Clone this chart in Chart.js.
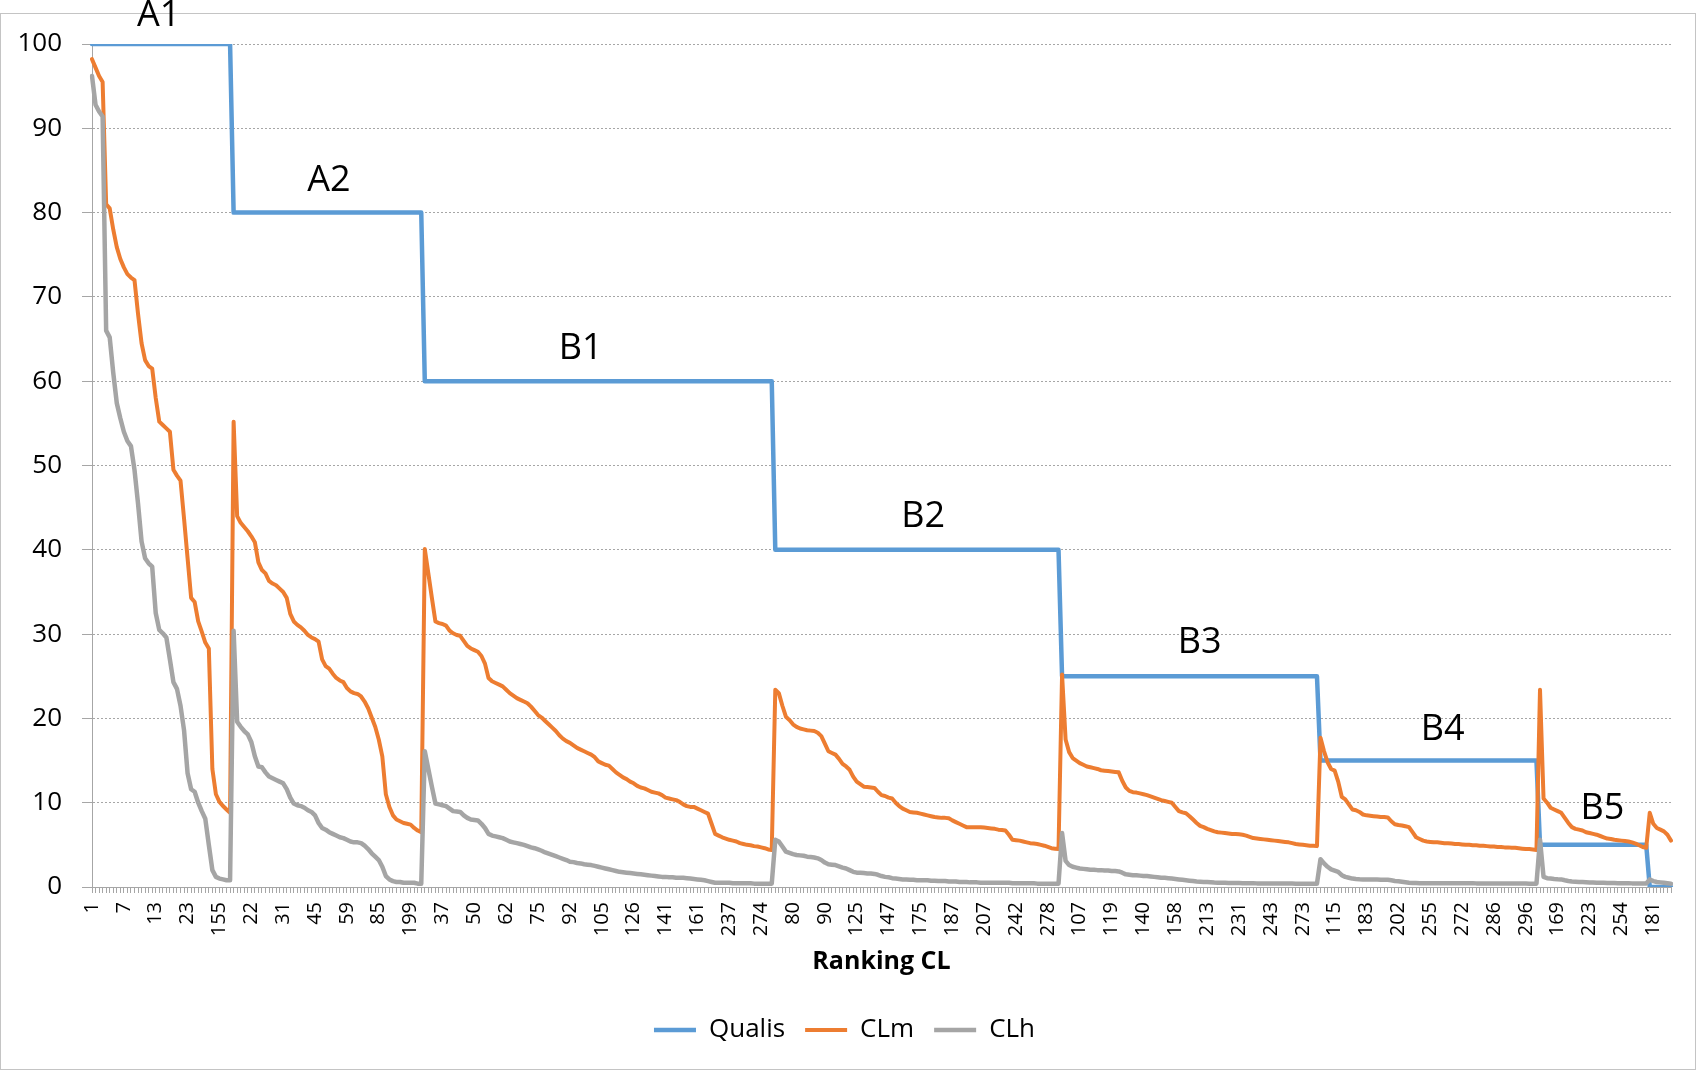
<!DOCTYPE html>
<html>
<head>
<meta charset="utf-8">
<title>Qualis x Ranking CL</title>
<script src="https://cdn.jsdelivr.net/npm/chart.js@4.4.1/dist/chart.umd.min.js"></script>
<style>
  html, body { margin: 0; padding: 0; background: #ffffff; }
  #wrap { position: relative; width: 1696px; height: 1071px; }
  #frame { position: absolute; left: 0; top: 13px; width: 1694px; height: 1055px; border: 1px solid #c4c4c4; }
  #chart { position: absolute; left: 0; top: 0; }
</style>
</head>
<body>
<div id="wrap">
  <div id="frame"></div>
  <canvas id="chart" width="1696" height="1071"></canvas>
</div>
<script>
// every 9th category carries a label on the x axis
const tickLabels = [
  "1", "7", "13", "23", "155", "22", "31", "45", "59", "85",
  "199", "37", "50", "62", "75", "92", "105", "126", "141", "161",
  "237", "274", "80", "90", "125", "147", "175", "187", "207", "242",
  "278", "107", "119", "140", "158", "213", "231", "243", "273", "115",
  "183", "202", "255", "272", "286", "296", "169", "223", "254", "181"
];
const labelEvery = 9;

const groupNames = ["A1", "A2", "B1", "B2", "B3", "B4", "B5", "C"];
const qualisScores = [100, 80, 60, 40, 25, 15, 5, 0];

const clmA1 = [98.2, 97.2, 96.2, 95.5, 81.0, 80.5, 78.0, 75.9, 74.5, 73.5,
  72.7, 72.3, 72.0, 68.0, 64.5, 62.5, 61.8, 61.5, 58.0, 55.2,
  54.8, 54.4, 54.0, 49.5, 48.8, 48.2, 43.7, 39.0, 34.3, 33.8,
  31.5, 30.3, 29.0, 28.3, 14.0, 11.0, 10.1, 9.6, 9.2, 8.8];
const clhA1 = [96.2, 92.8, 92.0, 91.4, 66.0, 65.2, 61.0, 57.4, 55.6, 54.0,
  52.9, 52.3, 49.5, 45.5, 41.0, 39.0, 38.4, 38.0, 32.5, 30.5,
  30.1, 29.6, 27.0, 24.3, 23.5, 21.5, 18.6, 13.5, 11.6, 11.3,
  10.0, 9.0, 8.1, 5.0, 2.0, 1.2, 1.0, 0.9, 0.8, 0.8];

const clmA2 = [55.2, 44.0, 43.2, 42.7, 42.2, 41.6, 40.9, 38.5, 37.6, 37.2,
  36.3, 36.0, 35.8, 35.4, 35.0, 34.3, 32.4, 31.5, 31.1, 30.8,
  30.4, 29.9, 29.6, 29.4, 29.1, 27.0, 26.2, 25.9, 25.3, 24.8,
  24.5, 24.3, 23.6, 23.2, 23.0, 22.9, 22.6, 22.0, 21.2, 20.1,
  19.0, 17.5, 15.5, 11.0, 9.5, 8.5, 8.0, 7.8, 7.6, 7.5,
  7.4, 7.0, 6.7, 6.5];
const clhA2 = [30.4, 19.6, 19.0, 18.5, 18.1, 17.2, 15.5, 14.3, 14.2, 13.6,
  13.1, 12.9, 12.7, 12.5, 12.3, 11.6, 10.6, 9.9, 9.7, 9.6,
  9.4, 9.1, 8.9, 8.5, 7.6, 7.0, 6.8, 6.5, 6.3, 6.1,
  5.9, 5.8, 5.6, 5.4, 5.3, 5.3, 5.2, 4.9, 4.5, 4.0,
  3.6, 3.2, 2.4, 1.3, 0.9, 0.7, 0.6, 0.6, 0.5, 0.5,
  0.5, 0.5, 0.4, 0.4];

const clmB1 = [40.1, 37.2, 34.3, 31.5, 31.3, 31.2, 31.0, 30.4, 30.1, 29.9,
  29.8, 29.2, 28.6, 28.3, 28.1, 27.9, 27.4, 26.5, 24.8, 24.4,
  24.2, 24.0, 23.8, 23.4, 23.0, 22.7, 22.4, 22.2, 22.0, 21.8,
  21.4, 20.9, 20.4, 20.1, 19.7, 19.3, 18.9, 18.5, 18.0, 17.6,
  17.3, 17.1, 16.8, 16.5, 16.3, 16.1, 15.9, 15.7, 15.4, 14.9,
  14.7, 14.5, 14.4, 14.0, 13.6, 13.3, 13.0, 12.8, 12.5, 12.3,
  12.0, 11.8, 11.7, 11.5, 11.3, 11.2, 11.1, 10.9, 10.6, 10.5,
  10.4, 10.3, 10.1, 9.8, 9.6, 9.5, 9.5, 9.3, 9.1, 8.9,
  8.7, 7.5, 6.3, 6.1, 5.9, 5.75, 5.6, 5.5, 5.4, 5.2,
  5.1, 5.0, 4.95, 4.85, 4.8, 4.7, 4.6, 4.45, 4.4];
const clhB1 = [16.1, 14.0, 11.9, 9.9, 9.8, 9.7, 9.6, 9.3, 9.0, 8.95,
  8.9, 8.5, 8.2, 8.0, 7.95, 7.9, 7.5, 7.0, 6.3, 6.1,
  6.0, 5.9, 5.8, 5.6, 5.4, 5.3, 5.2, 5.1, 5.0, 4.85,
  4.7, 4.6, 4.45, 4.3, 4.1, 3.95, 3.8, 3.65, 3.5, 3.35,
  3.2, 3.0, 2.95, 2.85, 2.8, 2.7, 2.65, 2.6, 2.5, 2.4,
  2.3, 2.2, 2.1, 2.0, 1.9, 1.8, 1.75, 1.7, 1.65, 1.6,
  1.55, 1.5, 1.45, 1.4, 1.35, 1.3, 1.25, 1.2, 1.2, 1.15,
  1.15, 1.1, 1.1, 1.1, 1.05, 1.0, 0.95, 0.9, 0.85, 0.8,
  0.7, 0.6, 0.5, 0.5, 0.5, 0.5, 0.5, 0.45, 0.45, 0.45,
  0.45, 0.45, 0.45, 0.4, 0.4, 0.4, 0.4, 0.4, 0.4];

const clmB2 = [23.4, 23.0, 21.5, 20.2, 19.8, 19.3, 19.0, 18.8, 18.7, 18.6,
  18.55, 18.5, 18.3, 17.9, 17.0, 16.1, 15.9, 15.7, 15.2, 14.6,
  14.3, 13.9, 13.1, 12.5, 12.2, 11.9, 11.85, 11.8, 11.75, 11.3,
  10.9, 10.8, 10.6, 10.5, 10.0, 9.6, 9.3, 9.1, 8.9, 8.85,
  8.8, 8.7, 8.6, 8.5, 8.4, 8.3, 8.25, 8.2, 8.2, 8.15,
  7.9, 7.7, 7.5, 7.3, 7.1, 7.1, 7.1, 7.1, 7.1, 7.05,
  7.0, 6.95, 6.9, 6.8, 6.75, 6.7, 6.2, 5.6, 5.55, 5.5,
  5.4, 5.3, 5.2, 5.15, 5.1, 5.0, 4.9, 4.75, 4.6, 4.55,
  4.5];
const clhB2 = [5.6, 5.4, 4.8, 4.2, 4.05, 3.9, 3.8, 3.75, 3.7, 3.6,
  3.55, 3.5, 3.4, 3.2, 2.9, 2.7, 2.65, 2.6, 2.45, 2.3,
  2.2, 2.0, 1.8, 1.7, 1.7, 1.65, 1.6, 1.6, 1.55, 1.45,
  1.3, 1.2, 1.15, 1.05, 1.0, 0.95, 0.9, 0.9, 0.85, 0.85,
  0.8, 0.8, 0.8, 0.8, 0.75, 0.75, 0.7, 0.7, 0.7, 0.65,
  0.65, 0.65, 0.6, 0.6, 0.6, 0.55, 0.55, 0.55, 0.5, 0.5,
  0.5, 0.5, 0.5, 0.5, 0.5, 0.5, 0.5, 0.45, 0.45, 0.45,
  0.45, 0.45, 0.45, 0.45, 0.4, 0.4, 0.4, 0.4, 0.4, 0.4,
  0.4];

const clmB3 = [25.2, 17.5, 16.0, 15.3, 15.0, 14.7, 14.5, 14.3, 14.2, 14.1,
  14.0, 13.85, 13.8, 13.75, 13.7, 13.65, 13.6, 12.6, 11.8, 11.4,
  11.25, 11.2, 11.1, 11.0, 10.9, 10.75, 10.6, 10.45, 10.3, 10.2,
  10.1, 10.0, 9.5, 9.0, 8.85, 8.75, 8.4, 8.0, 7.6, 7.25,
  7.1, 6.9, 6.75, 6.6, 6.5, 6.45, 6.4, 6.35, 6.3, 6.3,
  6.25, 6.2, 6.1, 5.95, 5.8, 5.75, 5.7, 5.65, 5.6, 5.55,
  5.5, 5.45, 5.4, 5.35, 5.3, 5.2, 5.1, 5.05, 5.0, 4.95,
  4.9, 4.9, 4.85];
const clhB3 = [6.4, 3.1, 2.6, 2.4, 2.3, 2.2, 2.15, 2.1, 2.05, 2.05,
  2.0, 2.0, 1.95, 1.95, 1.9, 1.9, 1.85, 1.7, 1.5, 1.45,
  1.4, 1.4, 1.35, 1.3, 1.3, 1.25, 1.2, 1.15, 1.1, 1.1,
  1.05, 1.0, 0.95, 0.9, 0.85, 0.8, 0.75, 0.7, 0.65, 0.63,
  0.6, 0.58, 0.55, 0.52, 0.5, 0.5, 0.5, 0.48, 0.48, 0.47,
  0.46, 0.45, 0.45, 0.44, 0.44, 0.43, 0.43, 0.43, 0.42, 0.42,
  0.42, 0.42, 0.41, 0.41, 0.41, 0.41, 0.4, 0.4, 0.4, 0.4,
  0.4, 0.4, 0.4];

const clmB4 = [17.7, 16.1, 14.8, 14.0, 13.8, 12.5, 10.7, 10.4, 9.8, 9.2,
  9.1, 8.9, 8.6, 8.5, 8.45, 8.4, 8.35, 8.3, 8.3, 8.25,
  7.8, 7.45, 7.35, 7.3, 7.2, 7.1, 6.5, 5.9, 5.7, 5.5,
  5.4, 5.35, 5.3, 5.3, 5.25, 5.2, 5.2, 5.15, 5.1, 5.1,
  5.05, 5.0, 5.0, 4.95, 4.95, 4.9, 4.9, 4.85, 4.8, 4.8,
  4.75, 4.75, 4.7, 4.7, 4.65, 4.65, 4.6, 4.55, 4.5, 4.5,
  4.45, 4.4];
const clhB4 = [3.3, 2.8, 2.4, 2.1, 1.95, 1.8, 1.4, 1.2, 1.1, 1.0,
  0.95, 0.92, 0.9, 0.9, 0.9, 0.88, 0.88, 0.87, 0.87, 0.85,
  0.8, 0.72, 0.68, 0.62, 0.56, 0.5, 0.47, 0.46, 0.45, 0.45,
  0.45, 0.45, 0.45, 0.45, 0.45, 0.45, 0.44, 0.44, 0.44, 0.44,
  0.44, 0.44, 0.44, 0.44, 0.43, 0.43, 0.43, 0.43, 0.43, 0.43,
  0.42, 0.42, 0.42, 0.42, 0.42, 0.42, 0.41, 0.41, 0.41, 0.4,
  0.4, 0.4];

const clmB5 = [23.4, 10.5, 10.0, 9.4, 9.2, 9.0, 8.8, 8.2, 7.6, 7.1,
  6.9, 6.8, 6.7, 6.5, 6.4, 6.3, 6.2, 6.05, 5.9, 5.75,
  5.7, 5.6, 5.55, 5.5, 5.45, 5.4, 5.3, 5.15, 4.95, 4.75,
  4.65];
const clhB5 = [5.6, 1.2, 1.05, 1.0, 0.95, 0.92, 0.9, 0.8, 0.72, 0.66,
  0.63, 0.6, 0.58, 0.56, 0.54, 0.52, 0.5, 0.5, 0.5, 0.48,
  0.47, 0.46, 0.45, 0.45, 0.44, 0.44, 0.43, 0.43, 0.43, 0.42,
  0.42];

const clmC = [8.8, 7.5, 7.0, 6.8, 6.6, 6.2, 5.5];
const clhC = [0.9, 0.7, 0.6, 0.55, 0.5, 0.45, 0.4];

const clmGroups = [clmA1, clmA2, clmB1, clmB2, clmB3, clmB4, clmB5, clmC];
const clhGroups = [clhA1, clhA2, clhB1, clhB2, clhB3, clhB4, clhB5, clhC];

// one Qualis score per journal, taken from the group it belongs to
const qualis = clmGroups.flatMap((group, i) => group.map(() => qualisScores[i]));
const clm = clmGroups.flat();
const clh = clhGroups.flat();
const categories = clm.map((_, i) => i);

const FONT = "'Open Sans', 'DejaVu Sans', sans-serif";
Chart.defaults.font.family = FONT;
Chart.defaults.color = "#000000";

// grade names written over the Qualis steps (x in category index, y in value)
const gradeSpots = [[18.8, 103.3], [66.9, 83.8], [138, 63.8], [234.8, 43.9], [312.9, 29.0], [381.5, 18.7], [426.6, 9.3]];

const gradeLabels = {
  id: "gradeLabels",
  afterDatasetsDraw(chart) {
    const { ctx, scales } = chart;
    ctx.save();
    ctx.font = `36px ${FONT}`;
    ctx.fillStyle = "#000000";
    ctx.textAlign = "center";
    ctx.textBaseline = "middle";
    gradeSpots.forEach(([idx, value], i) => {
      ctx.fillText(groupNames[i], scales.x.getPixelForValue(idx), scales.y.getPixelForValue(value));
    });
    ctx.restore();
  }
};

const lineStyle = {
  pointRadius: 0,
  tension: 0,
  fill: false,
  borderCapStyle: "round",
  borderJoinStyle: "round"
};

new Chart(document.getElementById("chart"), {
  type: "line",
  data: {
    labels: categories,
    datasets: [
      { ...lineStyle, label: "Qualis", data: qualis, borderColor: "#5b9bd5", backgroundColor: "#5b9bd5", borderWidth: 4.5, order: 3 },
      { ...lineStyle, label: "CLm", data: clm, borderColor: "#ed7d31", backgroundColor: "#ed7d31", borderWidth: 4, order: 2 },
      { ...lineStyle, label: "CLh", data: clh, borderColor: "#a5a5a5", backgroundColor: "#a5a5a5", borderWidth: 4.5, order: 1 }
    ]
  },
  options: {
    responsive: false,
    animation: false,
    layout: { padding: { left: 18, right: 25, top: 44, bottom: 18 } },
    plugins: {
      tooltip: { enabled: false },
      legend: {
        position: "bottom",
        labels: {
          usePointStyle: true,
          pointStyle: "line",
          pointStyleWidth: 42,
          padding: 20,
          color: "#000000",
          font: { size: 26 },
          sort: (a, b) => a.datasetIndex - b.datasetIndex
        }
      }
    },
    scales: {
      x: {
        offset: false,
        grid: { display: true, drawOnChartArea: false, tickLength: 6, color: "#a6a6a6" },
        border: { color: "#a6a6a6" },
        ticks: {
          autoSkip: false,
          minRotation: 90,
          maxRotation: 90,
          padding: 9,
          color: "#000000",
          font: { size: 20 },
          callback: (value, index) => (index % labelEvery === 0 ? tickLabels[index / labelEvery] : "")
        },
        title: {
          display: true,
          text: "Ranking CL",
          color: "#000000",
          font: { size: 25, weight: "bold" },
          padding: { top: 4, bottom: 20 }
        },
        afterFit: (scale) => {
          scale.height = 110;
          scale.paddingLeft = 0;
          scale.paddingRight = 0;
        }
      },
      y: {
        min: 0,
        max: 100,
        ticks: { stepSize: 10, padding: 20, color: "#000000", font: { size: 26 } },
        grid: { color: "#a6a6a6", tickLength: 10, borderDash: [2, 2] },
        border: { color: "#a6a6a6", dash: [2, 2] },
        afterFit: (scale) => { scale.width = 74; }
      }
    }
  },
  plugins: [gradeLabels]
});
</script>
</body>
</html>
